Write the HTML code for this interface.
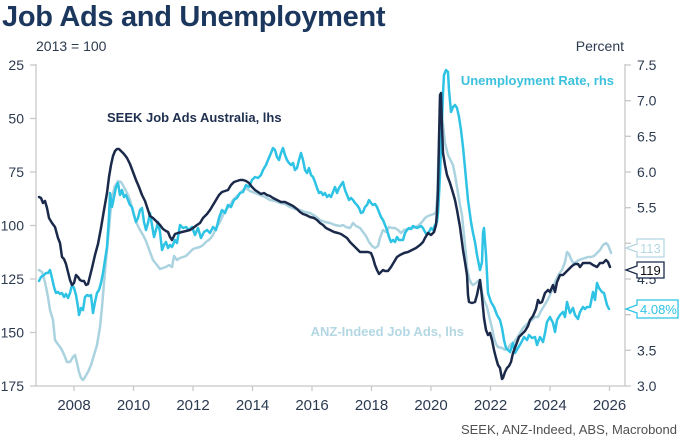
<!DOCTYPE html>
<html>
<head>
<meta charset="utf-8">
<style>
html,body{margin:0;padding:0;background:#fff;}
svg{display:block;}
text{font-family:"Liberation Sans",Arial,sans-serif;}
</style>
</head>
<body>
<svg width="685" height="447" viewBox="0 0 685 447" xmlns="http://www.w3.org/2000/svg">
<rect width="685" height="447" fill="#fff"/>
<text x="2" y="26" font-size="29" font-weight="bold" fill="#1c375e" letter-spacing="-0.3">Job Ads and Unemployment</text>
<text x="36" y="51" font-size="14" fill="#2c3a50">2013 = 100</text>
<text x="624" y="51" font-size="14" fill="#2c3a50" text-anchor="end">Percent</text>

<!-- axes -->
<g stroke="#c8c8c8" stroke-width="1.3" fill="none">
<line x1="36" y1="64" x2="36" y2="386"/>
<line x1="36" y1="386" x2="625" y2="386"/>
<line x1="625" y1="64" x2="625" y2="386"/>
<line x1="30" y1="65" x2="36" y2="65"/>
<line x1="30" y1="118.5" x2="36" y2="118.5"/>
<line x1="30" y1="172" x2="36" y2="172"/>
<line x1="30" y1="225.5" x2="36" y2="225.5"/>
<line x1="30" y1="279" x2="36" y2="279"/>
<line x1="30" y1="332.5" x2="36" y2="332.5"/>
<line x1="30" y1="386" x2="36" y2="386"/>
<line x1="625" y1="65" x2="631" y2="65"/>
<line x1="625" y1="100.7" x2="631" y2="100.7"/>
<line x1="625" y1="136.3" x2="631" y2="136.3"/>
<line x1="625" y1="172" x2="631" y2="172"/>
<line x1="625" y1="207.7" x2="631" y2="207.7"/>
<line x1="625" y1="243.3" x2="631" y2="243.3"/>
<line x1="625" y1="279" x2="631" y2="279"/>
<line x1="625" y1="314.7" x2="631" y2="314.7"/>
<line x1="625" y1="350.3" x2="631" y2="350.3"/>
<line x1="625" y1="386" x2="631" y2="386"/>
<line x1="74" y1="386" x2="74" y2="391"/>
<line x1="133.5" y1="386" x2="133.5" y2="391"/>
<line x1="193" y1="386" x2="193" y2="391"/>
<line x1="252.5" y1="386" x2="252.5" y2="391"/>
<line x1="312" y1="386" x2="312" y2="391"/>
<line x1="371.5" y1="386" x2="371.5" y2="391"/>
<line x1="431" y1="386" x2="431" y2="391"/>
<line x1="490.5" y1="386" x2="490.5" y2="391"/>
<line x1="550" y1="386" x2="550" y2="391"/>
<line x1="609.5" y1="386" x2="609.5" y2="391"/>
</g>

<!-- left tick labels -->
<g font-size="14" fill="#2c3a50" text-anchor="end">
<text x="24" y="70">25</text>
<text x="24" y="123.5">50</text>
<text x="24" y="177">75</text>
<text x="24" y="230.5">100</text>
<text x="24" y="284">125</text>
<text x="24" y="337.5">150</text>
<text x="24" y="391">175</text>
</g>
<!-- right tick labels -->
<g font-size="14" fill="#2c3a50">
<text x="637" y="70">7.5</text>
<text x="637" y="105.7">7.0</text>
<text x="637" y="141.3">6.5</text>
<text x="637" y="177">6.0</text>
<text x="637" y="212.7">5.5</text>
<text x="637" y="284">4.5</text>
<text x="637" y="355.3">3.5</text>
<text x="637" y="391">3.0</text>
</g>
<!-- x labels -->
<g font-size="15" fill="#2c3a50" text-anchor="middle">
<text x="74" y="410">2008</text>
<text x="133.5" y="410">2010</text>
<text x="193" y="410">2012</text>
<text x="252.5" y="410">2014</text>
<text x="312" y="410">2016</text>
<text x="371.5" y="410">2018</text>
<text x="431" y="410">2020</text>
<text x="490.5" y="410">2022</text>
<text x="550" y="410">2024</text>
<text x="609.5" y="410">2026</text>
</g>
<text x="677" y="434" font-size="13" fill="#505050" text-anchor="end">SEEK, ANZ-Indeed, ABS, Macrobond</text>

<!-- series -->
<g fill="none" stroke-width="2.5" stroke-linejoin="round" stroke-linecap="round">
<polyline stroke="#abd3df" points="39,270 42,272 45,282 48,297 50,310 53,320 55,340 57,343 60,347 62,350 65,357 67,362 70,362 73,357 75,355 77,363 79,372 81,378 83,380 85,377 88,372 91,365 94,355 97,345 100,327 102,307 104,283 106,260 108,240 110,217 112,197 115,186 118,181 121,182 124,187 127,193 130,200 133,212 136,222 140,230 143,235 146,241 150,252 153,260 157,265 160,269 163,268 166,267 169,265 172,267 174,256 177,260 180,258 183,257 186,256 190,252 193,249 196,248 200,247 203,245 206,242 210,239 213,235 216,228 220,222 223,215 226,210 230,205 233,200 236,197 240,193 243,190 246,188 250,191 255,193 260,195 265,197 270,200 275,201 280,203 285,204 290,207 295,209 300,210 305,212 310,213 315,216 320,220 325,222 330,223 335,225 340,226 343,225 346,227 350,228 353,223 356,226 360,228 363,232 366,236 369,242 372,246 375,248 378,246 380,238 383,230 386,232 389,227 392,228 395,228 398,230 401,233 404,230 407,229 410,229 413,228 416,227 419,225 422,222 425,218 428,216 431,215 434,214 436,212 437,200 438,170 439,140 440,118 441,113 443,125 445,143 448,155 451,161 453,165 455,175 458,193 460,205 462,215 464,235 466,255 467,268 469,278 471,283 473,285 476,283 478,281 480,280 482,292 484,300 487,307 490,320 492,328 494,338 496,344 498,347 502,348 505,350 508,348 511,344 514,342 517,338 520,333 523,328 526,325 529,322 532,320 535,317 538,317 541,311 544,306 547,301 550,295 553,288 556,280 559,274 562,270 565,262 567,252 569,254 571,259 573,263 576,262 579,260 582,259 585,258 588,257 591,257 594,256 597,253 600,250 603,245 606,243 608,245 610,250 611,253"/>
<polyline stroke="#2ec3e4" points="39,281 41,277 44,275 46,273 48,273 50,270 52,278 54,287 56,293 58,292 60,294 62,293 64,297 66,294 68,298 70,293 72,285 74,288 76,295 78,307 79,315 81,308 83,310 85,297 87,295 89,296 91,295 93,313 95,302 97,293 99,290 101,283 103,273 105,260 107,247 109,217 110,193 112,207 114,197 116,187 118,183 120,195 122,190 124,197 126,195 128,200 130,205 132,207 134,215 136,222 138,218 140,210 142,208 144,222 146,230 148,223 150,213 152,225 154,237 156,230 158,222 160,232 162,250 164,245 166,242 168,248 170,245 172,247 175,240 177,243 180,225 183,228 186,227 189,230 192,227 195,235 198,228 201,238 204,232 207,230 210,233 213,227 216,230 219,218 222,210 225,213 228,205 231,207 234,200 237,198 240,193 243,192 246,185 249,187 252,180 255,177 258,178 261,175 263,170 266,165 268,160 271,153 273,148 275,150 277,157 279,160 281,153 283,148 285,155 287,160 289,163 291,165 293,163 295,170 297,168 299,160 301,153 303,160 305,170 307,173 309,168 311,175 313,177 315,182 317,188 319,193 321,192 323,195 325,193 327,197 329,195 331,197 333,192 335,187 337,193 339,188 341,185 343,182 345,190 347,195 349,200 351,198 353,200 355,203 357,205 359,208 361,213 363,212 365,207 367,205 369,200 371,203 373,205 375,204 377,207 379,212 381,217 383,220 385,225 387,230 389,237 391,242 393,240 395,242 397,237 399,240 401,240 403,240 405,233 407,230 409,228 411,229 413,226 415,227 417,228 419,227 421,226 423,228 425,232 427,235 429,232 431,228 433,230 435,225 437,222 438,213 439,195 440,175 441,145 442,120 443,93 444,75 446,70 448,72 449,90 451,112 453,107 455,105 457,108 459,117 461,130 463,147 465,168 468,200 471,222 473,233 475,242 477,255 479,265 480,270 482,262 483,233 484,228 486,255 488,293 491,302 494,307 497,315 500,320 502,328 504,340 506,348 508,350 510,352 513,343 515,353 518,348 521,343 524,337 527,340 529,335 532,338 535,337 537,345 540,337 543,342 545,333 547,322 550,317 553,323 555,332 557,320 560,315 563,312 565,317 567,302 570,313 573,308 575,315 578,319 580,312 583,307 585,309 587,307 590,307 593,292 595,300 597,283 599,288 602,292 604,293 607,305 609,309"/>
<polyline stroke="#1b2a4a" points="39,197 41,198 43,203 45,201 47,208 49,218 52,223 55,227 58,238 60,243 62,257 64,259 66,264 68,272 70,280 72,285 74,283 76,275 78,277 80,280 82,281 84,281 86,285 88,284 90,276 92,268 95,255 98,244 101,228 104,210 107,193 109,177 111,165 113,156 115,151 117,149 119,149 121,151 124,154 127,158 130,164 133,172 136,180 139,187 142,195 145,201 147,207 150,216 153,218 156,221 160,225 163,229 166,231 168,232 170,237 172,240 175,234 178,233 182,232 186,231 190,230 193,228 197,225 200,223 203,218 207,214 210,210 213,205 216,200 219,195 222,192 225,191 228,190 231,185 234,182 237,181 240,180 243,180 246,181 249,183 252,187 255,190 258,192 261,194 264,193 267,195 270,196 273,198 277,200 281,202 285,202 289,204 293,206 297,209 300,212 303,214 306,215 310,217 314,218 317,220 320,223 323,225 326,228 330,230 334,232 338,233 341,234 344,236 347,238 350,242 353,245 356,248 360,252 364,252 368,252 371,253 373,258 375,265 377,270 379,274 381,272 383,270 385,271 388,271 391,267 394,262 397,257 400,255 404,253 408,252 412,250 416,248 420,245 423,242 425,238 428,233 431,235 434,232 436,225 437,212 438,190 439,140 440,95 441,93 442,127 443,153 445,165 447,175 450,183 453,193 455,200 457,210 460,227 463,250 465,262 467,275 468,295 469,302 472,303 475,302 477,295 479,285 480,280 482,297 484,318 486,330 488,335 490,333 492,340 494,350 496,358 498,365 500,368 502,379 503,378 505,372 507,368 509,366 511,362 513,353 516,345 519,337 522,334 525,331 528,326 530,320 533,316 536,309 538,300 540,303 542,302 545,293 548,290 550,292 553,285 555,292 557,282 560,275 563,275 566,272 569,269 572,266 575,264 578,264 580,267 583,263 587,263 590,263 593,265 597,267 600,263 603,263 606,260 608,262 610,267"/>
</g>

<!-- series labels -->
<text x="107" y="122" font-size="13" font-weight="bold" fill="#1f2f4f">SEEK Job Ads Australia, lhs</text>
<text x="614" y="85" font-size="13" font-weight="bold" fill="#3cc1dd" text-anchor="end">Unemployment Rate, rhs</text>
<text x="464" y="336" font-size="13" font-weight="bold" fill="#b3d7e3" text-anchor="end">ANZ-Indeed Job Ads, lhs</text>

<!-- value labels -->
<path d="M637,239 H664 V257 H637 V252 L626,248 L637,244 Z" fill="#fff" stroke="#b5d8e3" stroke-width="1.3"/>
<text x="640" y="253" font-size="13" fill="#b5d8e3">113</text>
<path d="M637,262 H664 V278 H637 V274 L626,270 L637,266 Z" fill="#fff" stroke="#1b2a4a" stroke-width="1.3"/>
<text x="640" y="275" font-size="13" fill="#111">119</text>
<path d="M637,300 H678 V318 H637 V313 L626,309 L637,305 Z" fill="#fff" stroke="#2ec3e4" stroke-width="1.3"/>
<text x="640" y="314" font-size="13" fill="#2ec3e4">4.08%</text>
</svg>
</body>
</html>
